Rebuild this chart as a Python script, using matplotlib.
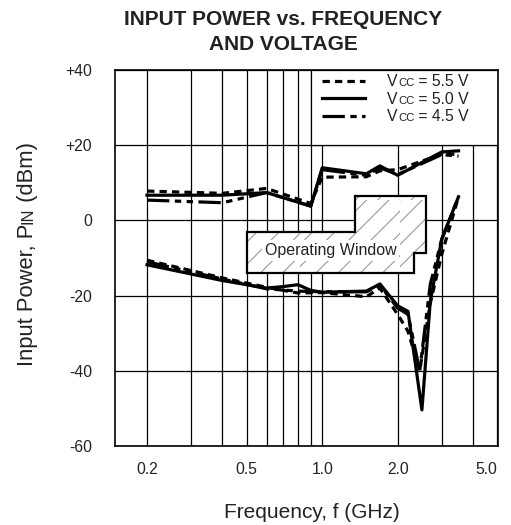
import matplotlib
matplotlib.use('Agg')
import matplotlib.pyplot as plt
from matplotlib.patches import Polygon, Rectangle
from matplotlib.ticker import FixedLocator, FixedFormatter, NullFormatter
from matplotlib.backend_bases import GraphicsContextBase
from matplotlib.font_manager import FontProperties

# ---------------- data ----------------
# upper curves (dBm) vs frequency (GHz)
f_hi = [0.2, 0.4, 0.6, 0.9, 1.0, 1.5, 1.7, 2.0, 3.0, 3.5]
p_hi_55 = [7.8, 7.2, 8.5, 4.5, 11.5, 11.6, 13.2, 13.5, 17.6, 17.6]
p_hi_50 = [6.7, 6.7, 7.4, 3.8, 14.0, 12.4, 14.5, 12.0, 18.2, 18.5]
p_hi_45 = [5.4, 4.7, 7.4, 3.8, 13.5, 12.0, 14.0, 12.2, 17.5, 17.1]

# lower curves
f_lo_55 = [0.2, 0.4, 0.6, 0.8, 1.0, 1.5, 1.7, 2.0, 2.2, 2.45, 2.7, 3.0, 3.5]
p_lo_55 = [-10.6, -15.3, -17.8, -19.3, -19.2, -20.3, -18.0, -25.0, -29.5, -40.0, -22.0, -9.0, 6.3]
f_lo_50 = [0.2, 0.4, 0.6, 0.7, 0.8, 0.9, 1.0, 1.5, 1.7, 2.0, 2.2, 2.5, 2.7, 3.0, 3.5]
p_lo_50 = [-11.8, -16.0, -18.0, -17.6, -17.1, -18.6, -19.1, -18.8, -16.9, -22.7, -24.2, -50.4, -21.5, -5.0, 6.3]
f_lo_45 = [0.2, 0.4, 0.6, 0.8, 1.0, 1.5, 1.7, 2.0, 2.2, 2.45, 2.7, 3.0, 3.5]
p_lo_45 = [-11.0, -15.6, -18.2, -18.8, -19.0, -19.0, -17.3, -23.3, -25.0, -40.0, -17.0, -5.0, 6.3]

# operating window outline
window_f = [0.5, 1.35, 1.35, 2.6, 2.6, 2.33, 2.33, 0.5]
window_p = [-3.0, -3.0, 6.4, 6.4, -8.8, -8.8, -13.9, -13.9]

legend_values = ['5.5', '5.0', '4.5']
xtick_vals = [0.2, 0.5, 1.0, 2.0, 5.0]
xtick_labels = ['0.2', '0.5', '1.0', '2.0', '5.0']
xgrid_minor = [0.3, 0.4, 0.6, 0.7, 0.8, 0.9, 3.0, 4.0]
ytick_vals = [40, 20, 0, -20, -40, -60]
ytick_labels = ['+40', '+20', '0', '-20', '-40', '-60']

# ---------------- style ----------------
_orig_hatch = GraphicsContextBase.get_hatch_path
def _hatch_path(self, density=9.0):
    return _orig_hatch(self, density)
GraphicsContextBase.get_hatch_path = _hatch_path

plt.rcParams['font.family'] = ['Liberation Sans', 'DejaVu Sans']
plt.rcParams['hatch.linewidth'] = 0.8
TXT = '#222222'
W, H = 511, 525
LW = 2.3
DASH = (2.3, 1.6)
DASHDOT = (7.0, 1.7, 2.0, 1.7, 2.0, 1.7)

fig = plt.figure(figsize=(W / 100, H / 100), dpi=100)
ax = fig.add_axes([115 / W, 1 - 446 / H, (498 - 115) / W, (446 - 70) / H])
ax.set_xscale('log')
ax.set_xlim(0.149, 5.03)
ax.set_ylim(-60, 40)

ax.xaxis.set_major_locator(FixedLocator(xtick_vals))
ax.xaxis.set_major_formatter(FixedFormatter(xtick_labels))
ax.xaxis.set_minor_locator(FixedLocator(xgrid_minor))
ax.xaxis.set_minor_formatter(NullFormatter())
ax.yaxis.set_major_locator(FixedLocator(ytick_vals))
ax.yaxis.set_major_formatter(FixedFormatter(ytick_labels))
ax.tick_params(which='both', length=0, labelsize=11.3, labelcolor=TXT)
ax.tick_params(axis='x', pad=11.5)
ax.tick_params(axis='y', pad=16.5)
ax.grid(which='both', color='black', lw=0.9)
ax.set_axisbelow(True)
for s in ax.spines.values():
    s.set_linewidth(1.2)
    s.set_zorder(5)
ax.get_xticklabels()[-1].set_ha('right')

# curves
l55, = ax.plot(f_hi, p_hi_55, color='black', lw=LW, ls=(0, DASH), zorder=4)
l50, = ax.plot(f_hi, p_hi_50, color='black', lw=LW, ls='-', zorder=4)
l45, = ax.plot(f_hi, p_hi_45, color='black', lw=LW, ls=(0, DASHDOT), zorder=4)
ax.plot(f_lo_55, p_lo_55, color='black', lw=LW, ls=(0, DASH), zorder=4)
ax.plot(f_lo_50, p_lo_50, color='black', lw=LW, ls='-', zorder=4)
ax.plot(f_lo_45, p_lo_45, color='black', lw=LW, ls=(0, DASHDOT), zorder=4)

# operating window
verts = list(zip(window_f, window_p))
ax.add_patch(Polygon(verts, closed=True, facecolor='white', edgecolor='#9a9a9a',
                     lw=0, hatch='/', zorder=3))
ax.add_patch(Polygon(verts, closed=True, fill=False, edgecolor='black', lw=1.6, zorder=3.1))
ax.text((window_f[0] * window_f[5]) ** 0.5, (window_p[0] + window_p[-1]) / 2 + 0.5,
        'Operating Window', ha='center', va='center', fontsize=11.5, color=TXT,
        bbox=dict(fc='white', ec='none', pad=2), zorder=3.2)

# legend box
ax.add_patch(Rectangle((0.9, 20), 5.03 - 0.9, 20, facecolor='white', edgecolor='black',
                       lw=0.9, zorder=2.5))
LFS = 11.3
leg = ax.legend([l55, l50, l45], ['V'] * 3, loc='upper left',
                bbox_to_anchor=((322 - 115) / 383, (446 - 74) / 376),
                frameon=False, fontsize=LFS, handlelength=2.74, handletextpad=1.4,
                labelspacing=0.17, borderpad=0, borderaxespad=0)
for t in leg.get_texts():
    t.set_color(TXT)
leg.set_zorder(6)

fig.canvas.draw()
rend = fig.canvas.get_renderer()


def rich(pieces, x_px, y_px, rotation=0, align='center', **kw):
    widths = []
    for s, size in pieces:
        t = fig.text(0, 0, s, size=size, **kw)
        widths.append(t.get_window_extent(rend).width)
        t.remove()
    pos = -sum(widths) / 2 if align == 'center' else 0.0
    dx, dy = (1, 0) if rotation == 0 else (0, 1)
    for (s, size), w in zip(pieces, widths):
        fig.text((x_px + dx * pos) / W, (y_px + dy * pos) / H, s, size=size,
                 rotation=rotation, rotation_mode='anchor', ha='left', va='baseline', **kw)
        pos += w


fp = FontProperties(family=['Liberation Sans'], size=LFS)
_, _, d_lp = rend.get_text_width_height_descent('lp', fp, ismath=False)
for t, v in zip(leg.get_texts(), legend_values):
    bb = t.get_window_extent(rend)
    rich([('CC', LFS * 0.72), (' = %s V' % v, LFS)], bb.x1 + 0.5, bb.y0 + d_lp,
         align='left', color=TXT)

# titles and axis labels
fig.text(283 / W, 1 - 25 / H, 'INPUT POWER vs. FREQUENCY', ha='center', va='baseline',
         fontsize=15, fontweight='bold', color=TXT)
fig.text(283 / W, 1 - 50 / H, 'AND VOLTAGE', ha='center', va='baseline',
         fontsize=15, fontweight='bold', color=TXT)
fig.text(312 / W, 1 - 517.5 / H, 'Frequency, f (GHz)', ha='center', va='baseline',
         fontsize=15, color=TXT)
rich([('Input Power, P', 15.8), ('IN', 15.8 * 0.75), (' (dBm)', 15.8)], 33, H - 254,
     rotation=90, color=TXT)

fig.savefig('out.png', dpi=100)
